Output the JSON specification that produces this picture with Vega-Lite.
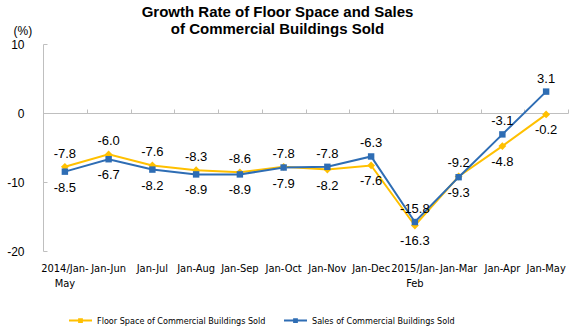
{
  "$schema": "https://vega.github.io/schema/vega-lite/v6.json",
  "width": 525,
  "height": 207,
  "autosize": {"type": "none"},
  "padding": {"left": 43, "top": 44, "right": 10, "bottom": 79},
  "background": "white",
  "title": {
    "text": ["Growth Rate of Floor Space and Sales", "of Commercial Buildings Sold"],
    "font": "Liberation Sans",
    "fontSize": 15,
    "fontWeight": "bold",
    "color": "black",
    "anchor": "middle",
    "dx": -28,
    "offset": -13,
    "lineHeight": 17
  },
  "config": {
    "view": {"stroke": null},
    "locale": {"number": {"decimal": ".", "thousands": ",", "grouping": [3], "currency": ["$", ""], "minus": "-"}}
  },
  "data": {
    "values": [
      {"month": "2014/Jan-May", "series": "Floor Space of Commercial Buildings Sold", "value": -7.8},
      {"month": "Jan-Jun", "series": "Floor Space of Commercial Buildings Sold", "value": -6.0},
      {"month": "Jan-Jul", "series": "Floor Space of Commercial Buildings Sold", "value": -7.6},
      {"month": "Jan-Aug", "series": "Floor Space of Commercial Buildings Sold", "value": -8.3},
      {"month": "Jan-Sep", "series": "Floor Space of Commercial Buildings Sold", "value": -8.6},
      {"month": "Jan-Oct", "series": "Floor Space of Commercial Buildings Sold", "value": -7.8},
      {"month": "Jan-Nov", "series": "Floor Space of Commercial Buildings Sold", "value": -8.2},
      {"month": "Jan-Dec", "series": "Floor Space of Commercial Buildings Sold", "value": -7.6},
      {"month": "2015/Jan-Feb", "series": "Floor Space of Commercial Buildings Sold", "value": -16.3},
      {"month": "Jan-Mar", "series": "Floor Space of Commercial Buildings Sold", "value": -9.2},
      {"month": "Jan-Apr", "series": "Floor Space of Commercial Buildings Sold", "value": -4.8},
      {"month": "Jan-May", "series": "Floor Space of Commercial Buildings Sold", "value": -0.2},
      {"month": "2014/Jan-May", "series": "Sales of Commercial Buildings  Sold", "value": -8.5},
      {"month": "Jan-Jun", "series": "Sales of Commercial Buildings  Sold", "value": -6.7},
      {"month": "Jan-Jul", "series": "Sales of Commercial Buildings  Sold", "value": -8.2},
      {"month": "Jan-Aug", "series": "Sales of Commercial Buildings  Sold", "value": -8.9},
      {"month": "Jan-Sep", "series": "Sales of Commercial Buildings  Sold", "value": -8.9},
      {"month": "Jan-Oct", "series": "Sales of Commercial Buildings  Sold", "value": -7.9},
      {"month": "Jan-Nov", "series": "Sales of Commercial Buildings  Sold", "value": -7.8},
      {"month": "Jan-Dec", "series": "Sales of Commercial Buildings  Sold", "value": -6.3},
      {"month": "2015/Jan-Feb", "series": "Sales of Commercial Buildings  Sold", "value": -15.8},
      {"month": "Jan-Mar", "series": "Sales of Commercial Buildings  Sold", "value": -9.3},
      {"month": "Jan-Apr", "series": "Sales of Commercial Buildings  Sold", "value": -3.1},
      {"month": "Jan-May", "series": "Sales of Commercial Buildings  Sold", "value": 3.1}
    ]
  },
  "layer": [
    {
      "mark": {"type": "line", "strokeWidth": 2},
      "encoding": {
        "x": {
          "field": "month", "type": "nominal", "sort": null, "bandPosition": 0.5,
          "scale": {"type": "band", "paddingInner": 0, "paddingOuter": 0},
          "axis": {
            "orient": "bottom", "title": null, "labelAngle": 0, "domain": false, "ticks": false,
            "labelPadding": 11, "labelFont": "DejaVu Sans Condensed", "labelFontSize": 11,
            "labelColor": "black", "labelLineHeight": 15, "labelOverlap": false, "grid": false,
            "labelExpr": "indexof(datum.label, '/') > 0 ? [slice(datum.label, 0, 9), slice(datum.label, 9)] : datum.label"
          }
        },
        "y": {
          "field": "value", "type": "quantitative",
          "scale": {"domain": [-20, 10], "nice": false, "zero": false},
          "axis": {
            "title": "(%)", "titleAngle": 0, "titleAlign": "left", "titleBaseline": "alphabetic",
            "titleX": -30, "titleY": -10, "titleFontWeight": "normal", "titleFontSize": 12,
            "titleFont": "Liberation Sans", "titleColor": "black",
            "values": [-20, -10, 0, 10], "grid": false, "domainColor": "#bfbfbf", "tickColor": "#bfbfbf",
            "tickSize": -4, "labelPadding": 23, "labelFontSize": 12, "labelColor": "black",
            "labelFont": "Liberation Sans"
          }
        },
        "stroke": {
          "field": "series", "type": "nominal",
          "scale": {"range": ["#FFC000", "#2E6DB4"]},
          "legend": {
            "orient": "none", "legendX": 25, "legendY": 264, "direction": "horizontal", "title": null,
            "symbolType": "M-1,0H1M-0.12,-0.12H0.12V0.12H-0.12Z", "symbolSize": 529, "symbolStrokeWidth": 2,
            "labelFont": "DejaVu Sans Condensed", "labelFontSize": 9, "labelColor": "black", "labelLimit": 0,
            "columnPadding": 14, "labelOffset": 4
          }
        }
      }
    },
    {
      "mark": {"type": "point", "filled": true, "opacity": 1, "size": 529},
      "encoding": {
        "x": {
          "field": "month", "type": "nominal", "sort": null, "bandPosition": 0.5,
          "axis": {
            "orient": "bottom", "offset": -138, "labels": false, "title": null, "grid": false,
            "domainColor": "#bfbfbf", "tickColor": "#bfbfbf", "tickSize": -4, "tickBand": "extent"
          }
        },
        "y": {
          "field": "value", "type": "quantitative",
          "axis": {
            "title": "(%)", "titleAngle": 0, "titleAlign": "left", "titleBaseline": "alphabetic",
            "titleX": -30, "titleY": -10, "titleFontWeight": "normal", "titleFontSize": 12,
            "titleFont": "Liberation Sans", "titleColor": "black",
            "values": [-20, -10, 0, 10], "grid": false, "domainColor": "#bfbfbf", "tickColor": "#bfbfbf",
            "tickSize": -4, "labelPadding": 23, "labelFontSize": 12, "labelColor": "black",
            "labelFont": "Liberation Sans"
          }
        },
        "fill": {
          "field": "series", "type": "nominal", "sort": null,
          "scale": {"range": ["#FFC000", "#2E6DB4"]},
          "legend": null
        },
        "shape": {
          "field": "series", "type": "nominal", "sort": null,
          "scale": {"range": ["M0,-0.34L0.34,0L0,0.34L-0.34,0Z", "M-0.28,-0.28H0.28V0.28H-0.28Z"]},
          "legend": null
        }
      }
    },
    {
      "transform": [
        {"joinaggregate": [{"op": "max", "field": "value", "as": "maxv"}], "groupby": ["month"]},
        {"filter": "datum.value >= datum.maxv"}
      ],
      "mark": {"type": "text", "baseline": "middle", "dy": -13, "font": "Liberation Sans", "fontSize": 13, "color": "black"},
      "encoding": {
        "x": {"field": "month", "type": "nominal", "sort": null, "bandPosition": 0.5, "axis": null},
        "y": {"field": "value", "type": "quantitative"},
        "text": {"field": "value", "type": "quantitative", "format": ".1f"}
      }
    },
    {
      "transform": [
        {"joinaggregate": [{"op": "max", "field": "value", "as": "maxv"}], "groupby": ["month"]},
        {"filter": "datum.value < datum.maxv"}
      ],
      "mark": {"type": "text", "baseline": "middle", "dy": 16, "font": "Liberation Sans", "fontSize": 13, "color": "black"},
      "encoding": {
        "x": {"field": "month", "type": "nominal", "sort": null, "bandPosition": 0.5, "axis": null},
        "y": {"field": "value", "type": "quantitative"},
        "text": {"field": "value", "type": "quantitative", "format": ".1f"}
      }
    }
  ],
  "resolve": {"axis": {"x": "independent"}}
}
